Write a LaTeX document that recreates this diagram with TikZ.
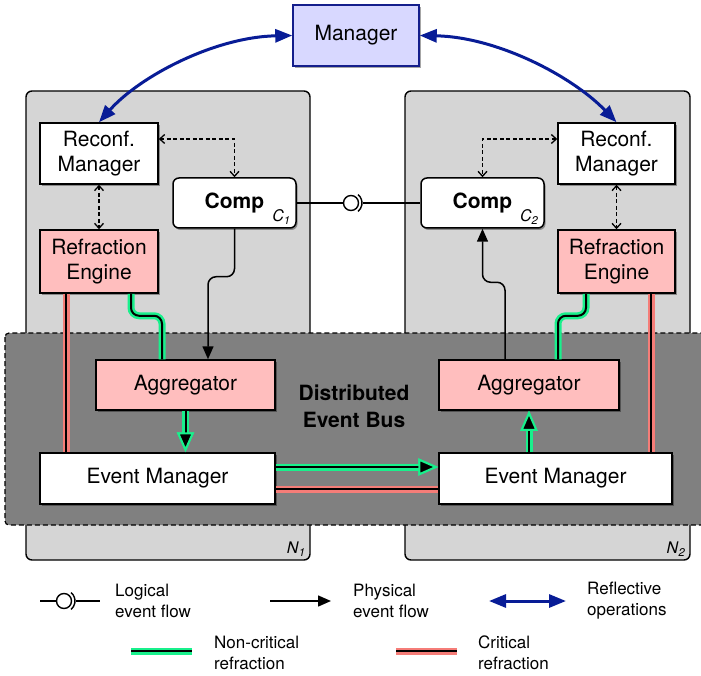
\documentclass[tikz,border=0pt]{standalone}
\usepackage{fontspec}
\setmainfont{TeX Gyre Heros}
\usetikzlibrary{arrows.meta,shadows}

\definecolor{nodegray}{RGB}{213,213,213}
\definecolor{busgray}{RGB}{128,128,128}
\definecolor{pinkfill}{RGB}{255,190,190}
\definecolor{mgrfill}{RGB}{216,216,255}
\definecolor{mgrline}{RGB}{20,30,140}
\definecolor{reflblue}{RGB}{8,28,150}
\definecolor{ncgreen}{RGB}{25,240,140}
\definecolor{crred}{RGB}{245,125,120}

\begin{document}
\begin{tikzpicture}[x=1pt,y=-1pt,
  every node/.style={inner sep=0pt},
  shade/.style={drop shadow={shadow xshift=1.5pt, shadow yshift=-2pt, opacity=0.35, fill=black}},
  box/.style={shade, draw=black, line width=1.5pt, minimum width=118pt, minimum height=61pt,
    align=center, font=\fontsize{21}{25}\selectfont},
  comp/.style={box, fill=white, rounded corners=6pt, minimum width=123pt, minimum height=50pt},
  group/.style={draw=black, fill=nodegray, line width=1.4pt, rounded corners=6pt},
  sublab/.style={anchor=south east, font=\fontsize{16}{16}\selectfont},
  legtext/.style={anchor=west, align=left, font=\fontsize{17}{21}\selectfont},
  physical/.style={line width=1.5pt, -{Triangle[length=13pt,width=11pt]}},
  ctrl/.style={line width=1.3pt, dash pattern=on 4pt off 2.5pt,
    {Straight Barb[length=5pt,width=9pt]}-{Straight Barb[length=5pt,width=9pt]}},
  reflect/.style={reflblue, line width=3pt,
    {Triangle[length=17pt,width=13pt]}-{Triangle[length=17pt,width=13pt]}},
  ncl/.style={line width=2pt, black, preaction={draw=ncgreen, line width=7pt}},
  crl/.style={line width=2pt, black, preaction={draw=crred, line width=7pt}},
  ncarrow/.style={ncl, -{Triangle[length=20pt,width=17pt,line width=2pt,color=ncgreen,fill=black]}},
]
\useasboundingbox (0,0) rectangle (701,676);

% node groups and the event bus
\node[group, minimum width=284pt, minimum height=469pt] (n1) at (168,325.5) {};
\node[group, minimum width=285pt, minimum height=469pt] (n2) at (547.5,325.5) {};
\node[sublab] at ([xshift=-5pt,yshift=4pt]n1.south east) {\textit{N}\textsubscript{\textit{1}}};
\node[sublab] at ([xshift=-5pt,yshift=4pt]n2.south east) {\textit{N}\textsubscript{\textit{2}}};
\draw[fill=busgray, line width=1.2pt, dash pattern=on 5pt off 3pt, rounded corners=4pt]
  (5,333) rectangle (712,525);
\node[align=center, font=\bfseries\fontsize{21}{27}\selectfont] (bus) at (354,406) {Distributed\\Event Bus};

% components
\node[box, fill=mgrfill, draw=mgrline, minimum width=126pt] (mgr) at (356,35.5) {Manager};

\node[box, fill=white] (rmL) at (99,153.5) {Reconf.\\Manager};
\node[box, fill=pinkfill, minimum height=63pt] (reL) at (99,261.5) {Refraction\\Engine};
\node[comp] (c1) at (234.5,203) {\textbf{Comp}};
\node[sublab] at ([xshift=-6pt,yshift=4pt]c1.south east) {\textit{C}\textsubscript{\textit{1}}};
\node[box, fill=pinkfill, minimum width=179pt, minimum height=50pt] (aggL) at (185.5,385) {Aggregator};
\node[box, fill=white, minimum width=235pt, minimum height=51pt] (emL) at (157.5,478.5) {Event Manager};

\node[box, fill=white, minimum width=117pt] (rmR) at (616.5,153.5) {Reconf.\\Manager};
\node[box, fill=pinkfill, minimum width=117pt, minimum height=63pt] (reR) at (616.5,261.5) {Refraction\\Engine};
\node[comp] (c2) at (482.5,203) {\textbf{Comp}};
\node[sublab] at ([xshift=-6pt,yshift=4pt]c2.south east) {\textit{C}\textsubscript{\textit{2}}};
\node[box, fill=pinkfill, minimum width=180pt, minimum height=50pt] (aggR) at (529,385) {Aggregator};
\node[box, fill=white, minimum width=233pt, minimum height=51pt] (emR) at (555.5,478.5) {Event Manager};

% reflective operations
\draw[reflect] (rmL.north) .. controls (140,76) and (215,37) .. (mgr.west);
\draw[reflect] (mgr.east) .. controls (497,37) and (572,76) .. (rmR.north);

% control links
\draw[ctrl] ([yshift=14.5pt]rmL.east) -| (c1.north);
\draw[ctrl] (rmL.south) -- (reL.north);
\draw[ctrl] ([yshift=14.5pt]rmR.west) -| (c2.north);
\draw[ctrl] (rmR.south) -- (reR.north);

% logical event flow between the components
\node[circle, draw, line width=1.4pt, fill=white, minimum size=15pt] (ball) at (351,203) {};
\coordinate (sock) at (363,203);
\draw[line width=1.4pt] (c1.east) -- (ball.west);
\draw[line width=1.4pt] (ball.center) ++(50:11pt) arc[start angle=50, end angle=-50, radius=11pt];
\draw[line width=1.4pt] (sock) -- (c2.west);

% physical event flow
\draw[physical, rounded corners=8pt] (c1.south) -- ++(0,48) -| ([xshift=22.5pt]aggL.north);
\draw[physical, rounded corners=8pt] ([xshift=-24pt]aggR.north) -- ++(0,-77) -| (c2.south);

% critical refraction
\draw[crl] ([xshift=-33pt]reL.south) -- ([xshift=-33pt]reL.south |- emL.north);
\draw[crl] ([xshift=34.5pt]reR.south) -- ([xshift=34.5pt]reR.south |- emR.north);
\draw[crl] ([yshift=-10.5pt]emL.east) -- ([yshift=-10.5pt]emL.east -| emR.west);

% non-critical refraction
\draw[ncl, rounded corners=8pt] ([xshift=32pt]reL.south) -- ++(0,22) -| ([xshift=-23.5pt]aggL.north);
\draw[ncl, rounded corners=8pt] ([xshift=-30.5pt]reR.south) -- ++(0,22) -| ([xshift=29pt]aggR.north);
\draw[ncarrow] (aggL.south) -- (aggL.south |- emL.north);
\draw[ncarrow] ([yshift=11.5pt]emL.east) -- ([yshift=11.5pt]emL.east -| emR.west);
\draw[ncarrow] (emR.north -| aggR.south) -- (aggR.south);

% legend
\coordinate (l1a) at (40,601);
\node[circle, draw, line width=1.4pt, fill=white, minimum size=15pt] (lball) at (64,601) {};
\coordinate (l1b) at (100,601);
\draw[line width=1.4pt] (l1a) -- (lball.west);
\draw[line width=1.4pt] (lball.center) ++(50:11pt) arc[start angle=50, end angle=-50, radius=11pt];
\draw[line width=1.4pt] ([xshift=12pt]lball.center) -- (l1b);
\node[legtext] (t1) at (115,601) {Logical\\event flow};

\coordinate (l2a) at (270,601);
\coordinate (l2b) at (331,601);
\draw[physical] (l2a) -- (l2b);
\node[legtext] (t2) at (353,601) {Physical\\event flow};

\coordinate (l3a) at (489,601);
\coordinate (l3b) at (566,601);
\draw[reflect] (l3a) -- (l3b);
\node[legtext] (t3) at (587,601) {Reflective\\operations};

\coordinate (l4a) at (131,651);
\coordinate (l4b) at (192,651);
\draw[ncl] (l4a) -- (l4b);
\node[legtext] (t4) at (214,653) {Non-critical\\refraction};

\coordinate (l5a) at (396,651);
\coordinate (l5b) at (457,651);
\draw[crl] (l5a) -- (l5b);
\node[legtext] (t5) at (478,653) {Critical\\refraction};
\end{tikzpicture}
\end{document}
